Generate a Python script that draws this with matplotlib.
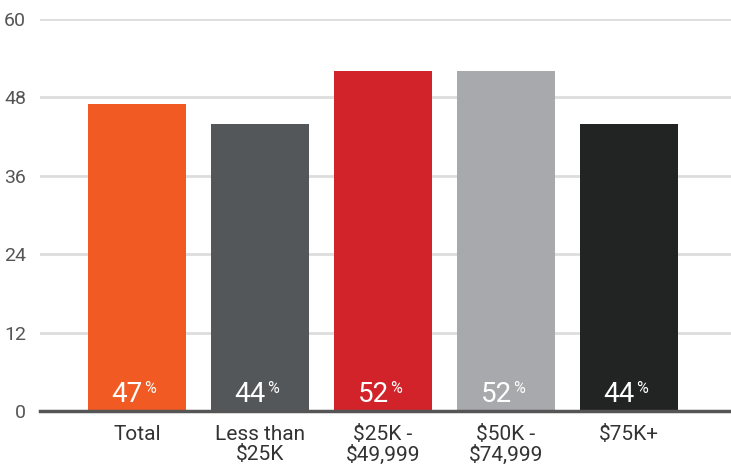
import matplotlib
matplotlib.use("Agg")
import matplotlib.pyplot as plt

categories = ["Total", "Less than\n$25K", "$25K -\n$49,999", "$50K -\n$74,999", "$75K+"]
values = [47, 44, 52, 52, 44]
colors = ["#F15A22", "#54575A", "#D2232A", "#A7A9AC", "#222423"]
yticks = [0, 12, 24, 36, 48, 60]

plt.rcParams['font.family'] = ['Roboto', 'DejaVu Sans']

fig = plt.figure(figsize=(7.31, 4.70), dpi=100)
ax = fig.add_axes([40 / 731, 1 - 411 / 470, 1 - 40 / 731, (411 - 19) / 470])

x = range(len(categories))
ax.bar(x, values, width=0.8, color=colors, zorder=3)

ax.set_ylim(0, 60)
ax.set_xlim(-0.79, 4.83)
ax.set_yticks(yticks)
ax.set_yticklabels([str(t) for t in yticks], fontsize=14, color="#555555")
ax.set_xticks(list(x))
ax.set_xticklabels(categories, fontsize=15, color="#333333", linespacing=1.05, va="top")
ax.tick_params(axis="both", length=0)
ax.tick_params(axis="y", pad=10)
ax.tick_params(axis="x", pad=10)

ax.grid(axis="y", color="#DDDDDD", linewidth=2, zorder=0)
for s in ["top", "right", "left"]:
    ax.spines[s].set_visible(False)
ax.spines["bottom"].set_color("#555555")
ax.spines["bottom"].set_linewidth(2.5)
ax.spines["bottom"].set_zorder(4)

for i, v in enumerate(values):
    ax.text(i + 0.045, 1.4, str(v), ha="right", va="baseline", color="white",
            fontsize=20, zorder=5)
    ax.text(i + 0.055, 2.7, "%", ha="left", va="baseline", color="white",
            fontsize=11.5, zorder=5)

fig.savefig("out.png", dpi=100)
